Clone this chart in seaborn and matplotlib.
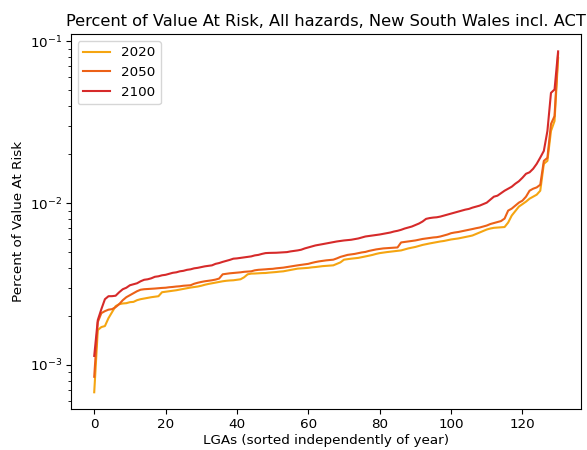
import numpy as np
import pandas as pd
import matplotlib
matplotlib.use("Agg")
import matplotlib.pyplot as plt
import seaborn as sns

# Percent of value at risk per LGA, each year sorted independently (ascending)
var_2020 = [
    0.000677, 0.001642, 0.001713, 0.001738, 0.001946, 0.002119, 0.002307, 0.002374, 0.002397, 0.002407,
    0.002442, 0.002452, 0.002512, 0.002548, 0.002573, 0.002602, 0.002621, 0.002640, 0.002658, 0.002813,
    0.002833, 0.002854, 0.002874, 0.002894, 0.002923, 0.002956, 0.002978, 0.003007, 0.003029, 0.003051,
    0.003085, 0.003129, 0.003165, 0.003196, 0.003228, 0.003256, 0.003288, 0.003311, 0.003326, 0.003335,
    0.003359, 0.003383, 0.003480, 0.003631, 0.003667, 0.003672, 0.003683, 0.003694, 0.003699, 0.003720,
    0.003735, 0.003751, 0.003773, 0.003789, 0.003827, 0.003870, 0.003898, 0.003937, 0.003953, 0.003970,
    0.003981, 0.004010, 0.004027, 0.004056, 0.004079, 0.004096, 0.004113, 0.004125, 0.004214, 0.004304,
    0.004472, 0.004504, 0.004536, 0.004561, 0.004587, 0.004633, 0.004686, 0.004733, 0.004787, 0.004855,
    0.004910, 0.004946, 0.004981, 0.005009, 0.005030, 0.005066, 0.005102, 0.005175, 0.005249, 0.005301,
    0.005361, 0.005438, 0.005516, 0.005579, 0.005634, 0.005690, 0.005739, 0.005796, 0.005837, 0.005904,
    0.005963, 0.006005, 0.006048, 0.006109, 0.006178, 0.006240, 0.006310, 0.006446, 0.006584, 0.006725,
    0.006870, 0.006968, 0.007038, 0.007067, 0.007087, 0.007118, 0.007587, 0.008377, 0.008928, 0.009517,
    0.009860, 0.010215, 0.010659, 0.010965, 0.011281, 0.011938, 0.017501, 0.018262, 0.027940, 0.032190,
    0.078930,
]

var_2050 = [
    0.000844, 0.001839, 0.002089, 0.002149, 0.002195, 0.002211, 0.002275, 0.002374, 0.002512, 0.002621,
    0.002696, 0.002774, 0.002854, 0.002915, 0.002936, 0.002945, 0.002956, 0.002965, 0.002978, 0.002991,
    0.002999, 0.003020, 0.003033, 0.003051, 0.003063, 0.003085, 0.003098, 0.003107, 0.003174, 0.003219,
    0.003256, 0.003288, 0.003311, 0.003335, 0.003368, 0.003417, 0.003631, 0.003657, 0.003683, 0.003699,
    0.003720, 0.003735, 0.003762, 0.003778, 0.003789, 0.003843, 0.003870, 0.003887, 0.003898, 0.003915,
    0.003925, 0.003953, 0.003970, 0.003993, 0.004027, 0.004067, 0.004096, 0.004125, 0.004154, 0.004184,
    0.004214, 0.004273, 0.004323, 0.004365, 0.004396, 0.004428, 0.004447, 0.004472, 0.004555, 0.004653,
    0.004719, 0.004787, 0.004821, 0.004855, 0.004910, 0.004959, 0.004994, 0.005066, 0.005124, 0.005175,
    0.005211, 0.005249, 0.005271, 0.005286, 0.005301, 0.005323, 0.005715, 0.005755, 0.005796, 0.005837,
    0.005879, 0.005938, 0.006005, 0.006048, 0.006091, 0.006134, 0.006161, 0.006221, 0.006310, 0.006400,
    0.006519, 0.006584, 0.006631, 0.006706, 0.006773, 0.006841, 0.006918, 0.006998, 0.007067, 0.007168,
    0.007271, 0.007427, 0.007533, 0.007640, 0.007749, 0.008029, 0.008992, 0.009251, 0.009652, 0.010071,
    0.010361, 0.010965, 0.011938, 0.012282, 0.012511, 0.012998, 0.018262, 0.019055, 0.030850, 0.034550,
    0.084360,
]

var_2100 = [
    0.001136, 0.001892, 0.002211, 0.002548, 0.002658, 0.002660, 0.002677, 0.002813, 0.002936, 0.002999,
    0.003107, 0.003151, 0.003196, 0.003288, 0.003359, 0.003383, 0.003431, 0.003505, 0.003530, 0.003580,
    0.003605, 0.003657, 0.003709, 0.003735, 0.003789, 0.003816, 0.003870, 0.003898, 0.003953, 0.003981,
    0.004027, 0.004067, 0.004096, 0.004125, 0.004214, 0.004262, 0.004334, 0.004396, 0.004459, 0.004536,
    0.004555, 0.004587, 0.004620, 0.004653, 0.004686, 0.004753, 0.004787, 0.004855, 0.004910, 0.004924,
    0.004930, 0.004935, 0.004950, 0.004960, 0.004981, 0.005030, 0.005066, 0.005102, 0.005153, 0.005249,
    0.005323, 0.005399, 0.005477, 0.005532, 0.005579, 0.005634, 0.005690, 0.005739, 0.005796, 0.005837,
    0.005879, 0.005904, 0.005938, 0.005988, 0.006048, 0.006134, 0.006221, 0.006265, 0.006310, 0.006355,
    0.006400, 0.006464, 0.006519, 0.006584, 0.006678, 0.006745, 0.006841, 0.006968, 0.007067, 0.007168,
    0.007323, 0.007480, 0.007695, 0.007996, 0.008086, 0.008144, 0.008179, 0.008260, 0.008377, 0.008497,
    0.008618, 0.008741, 0.008866, 0.008992, 0.009120, 0.009212, 0.009382, 0.009517, 0.009652, 0.009860,
    0.010071, 0.010508, 0.010965, 0.011122, 0.011522, 0.011938, 0.012282, 0.012635, 0.013183, 0.013658,
    0.014353, 0.015190, 0.015516, 0.016306, 0.017501, 0.019138, 0.021040, 0.027940, 0.048070, 0.050440,
    0.086780,
]

years = ["2020", "2050", "2100"]
series = [var_2020, var_2050, var_2100]
palette = {"2020": "#f5a511", "2050": "#ec6117", "2100": "#d62a2a"}

frames = []
for year, vals in zip(years, series):
    frames.append(pd.DataFrame({
        "lga": np.arange(len(vals)),
        "var": vals,
        "year": year,
    }))
df = pd.concat(frames, ignore_index=True)

plt.rcParams.update({
    "font.size": 9.7,
    "xtick.major.pad": 3.0,
    "ytick.major.pad": 3.0,
})

fig = plt.figure(figsize=(5.87, 4.5), dpi=100)
ax = fig.add_axes([0.1210, 0.0904, 0.8693, 0.8333])

sns.lineplot(data=df, x="lga", y="var", hue="year", palette=palette,
             estimator=None, sort=False, linewidth=1.5, ax=ax)

ax.set_yscale("log")
ax.set_title("Percent of Value At Risk, All hazards, New South Wales incl. ACT", fontsize=11.7)
ax.set_xlabel("LGAs (sorted independently of year)", labelpad=2)
ax.set_ylabel("Percent of Value At Risk", labelpad=3)
sns.move_legend(ax, "upper left", title=None)

fig.savefig("out.png", dpi=100)
